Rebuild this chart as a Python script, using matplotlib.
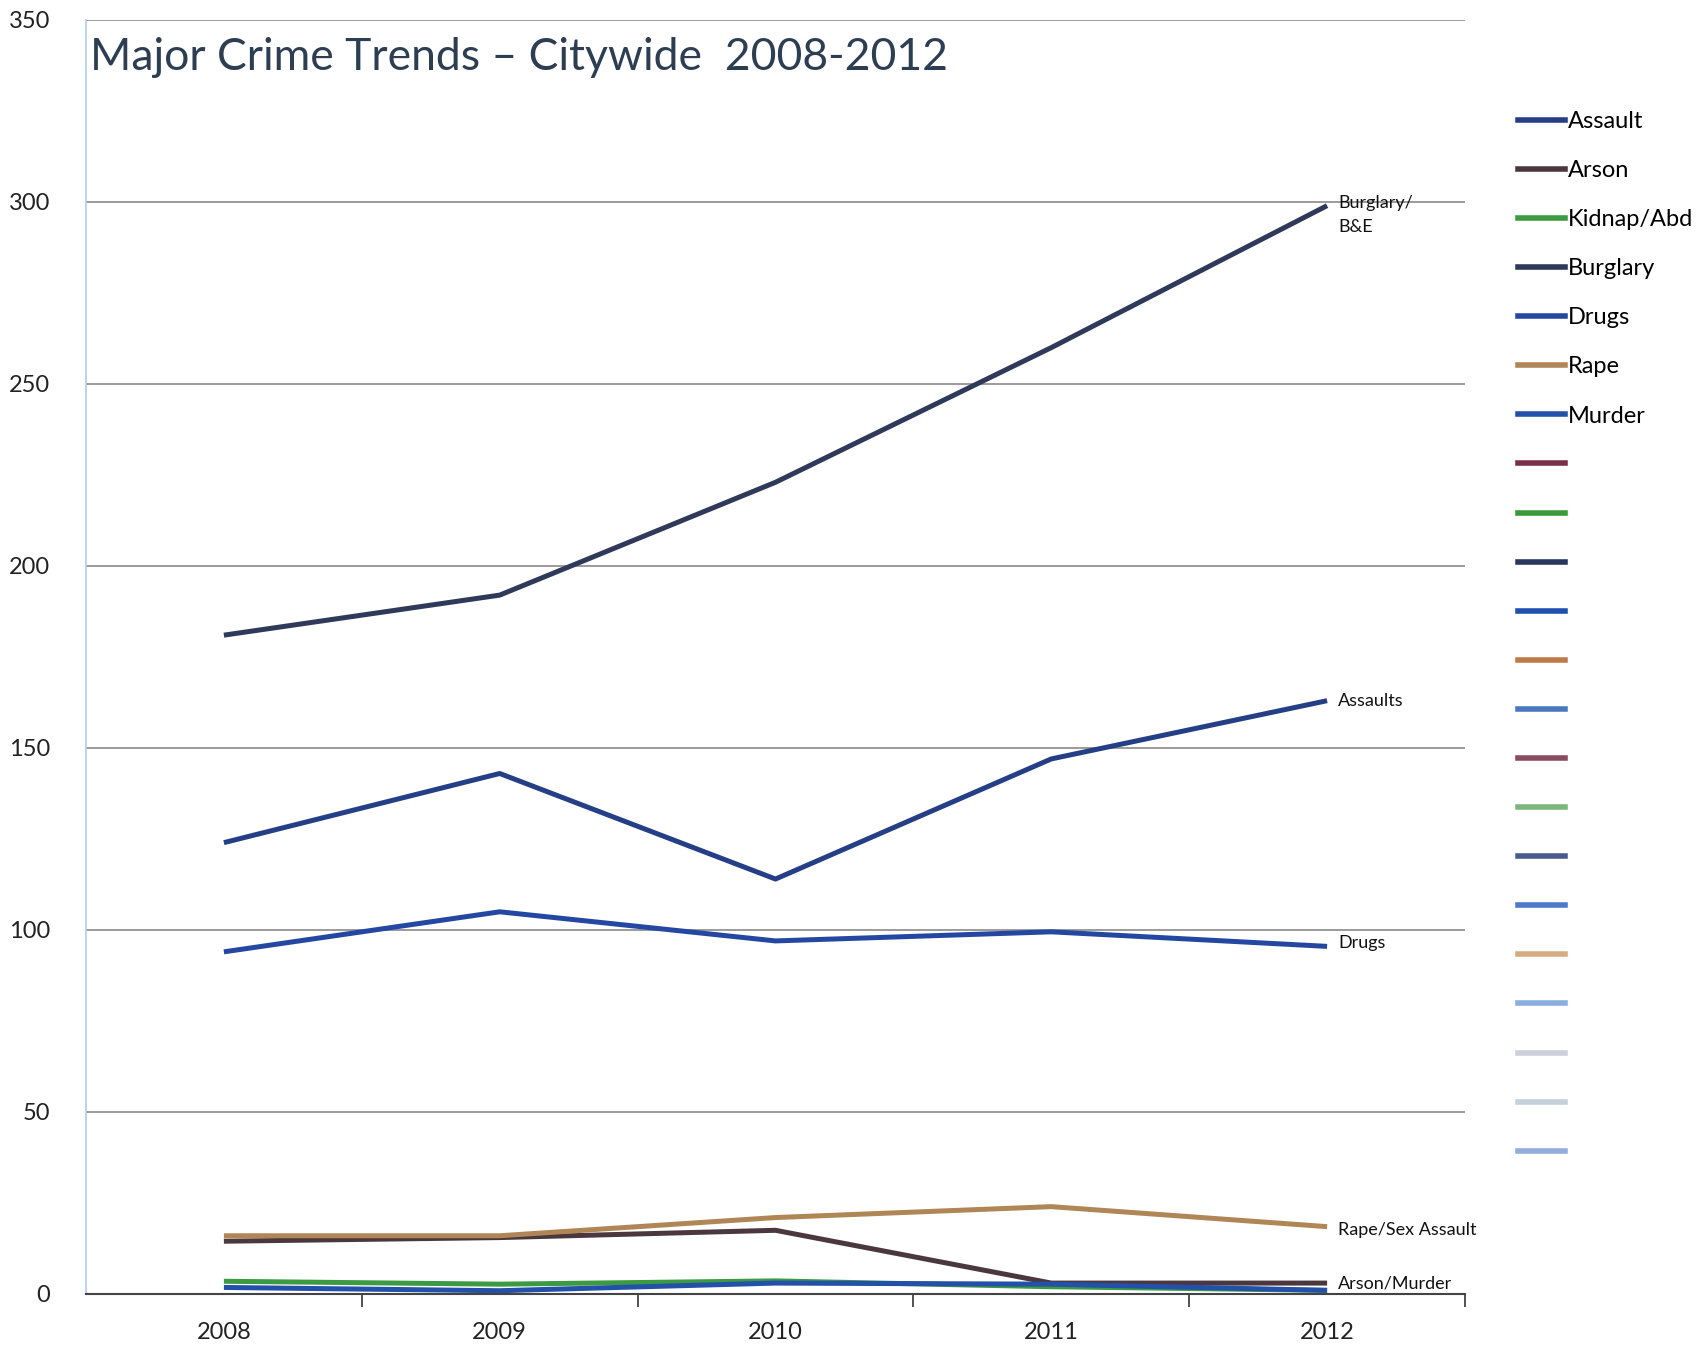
import matplotlib
matplotlib.use('Agg')
import matplotlib.pyplot as plt
from matplotlib.lines import Line2D

plt.rcParams['font.family'] = ['Lato', 'DejaVu Sans']

# data
years = ['2008', '2009', '2010', '2011', '2012']
assault = [124, 143, 114, 147, 163]
arson = [14.5, 15.5, 17.5, 3, 3]
kidnap = [3.5, 2.7, 3.6, 2, 1]
burglary = [181, 192, 223, 260, 299]
drugs = [94, 105, 97, 99.5, 95.5]
rape = [16, 16, 21, 24, 18.5]
murder = [1.8, 0.9, 3, 2.7, 1]

series_names = ['Assault', 'Arson', 'Kidnap/Abd', 'Burglary', 'Drugs', 'Rape', 'Murder']
series_vals = [assault, arson, kidnap, burglary, drugs, rape, murder]
series_cols = ['#243f86', '#4a383e', '#3c9a42', '#2f3a5a', '#2448a2', '#b08656', '#2350a8']

# unused legend entries (empty series in the original workbook)
extra_cols = ['#7a3048', '#3a9a3a', '#2a3560', '#1f4fb0', '#c07a4a', '#4a78c0', '#8a4a60',
              '#7ab87a', '#4a5a8a', '#4a7ac8', '#d4ac84', '#8aaee0', '#ccd0da', '#c4d0da', '#92acdc']

end_labels = ['Burglary/\nB&E', 'Assaults', 'Drugs', 'Rape/Sex Assault', 'Arson/Murder']
end_vals = [296.5, 163, 96.5, 17.5, 3]

fig = plt.figure(figsize=(17.02, 13.45), dpi=100)
ax = fig.add_axes([86 / 1702, 51 / 1345, 1379 / 1702, 1274 / 1345])

x = list(range(len(years)))
for name, vals, col in zip(series_names, series_vals, series_cols):
    ax.plot(x, vals, color=col, lw=3.6, solid_capstyle='butt', label=name)

ax.set_xlim(-0.5, 4.5)
ax.set_ylim(0, 350)
ax.set_yticks(range(0, 351, 50))
ax.set_xticks(x)
ax.set_xticklabels(years)
ax.set_xticks([0.5, 1.5, 2.5, 3.5, 4.5], minor=True)
ax.tick_params(axis='x', which='major', length=0, pad=20, labelsize=17, labelcolor='#222222')
ax.tick_params(axis='x', which='minor', length=9, width=1.2, color='#333333', direction='out')
ax.tick_params(axis='y', length=0, pad=26, labelsize=17, labelcolor='#222222')

ax.grid(axis='y', color='#8a8a8a', lw=1.2)
ax.set_axisbelow(True)
for s in ['top', 'right']:
    ax.spines[s].set_visible(False)
ax.spines['left'].set_color('#b4c8e4')
ax.spines['left'].set_linewidth(1.2)
ax.spines['bottom'].set_color('#444444')
ax.spines['bottom'].set_linewidth(1.5)

ax.text(0.003, 0.987, 'Major Crime Trends \u2013 Citywide  2008-2012', transform=ax.transAxes,
        fontsize=32, color='#2d3e52', ha='left', va='top')

for lab, v in zip(end_labels, end_vals):
    ax.annotate(lab, xy=(4, v), xytext=(8, 0), textcoords='offset points',
                fontsize=13, color='#111111', ha='left', va='center', linespacing=1.6)

handles = [Line2D([], [], color=c, lw=4) for c in series_cols + extra_cols]
labels = series_names + [''] * len(extra_cols)
fig.legend(handles, labels, loc='upper left', bbox_to_anchor=(1518 / 1702, 1 - 111 / 1345),
           frameon=False, fontsize=17, handlelength=2.0, handletextpad=0.12,
           labelspacing=1.19, borderaxespad=0, borderpad=0)

fig.savefig('out.png', dpi=100)
